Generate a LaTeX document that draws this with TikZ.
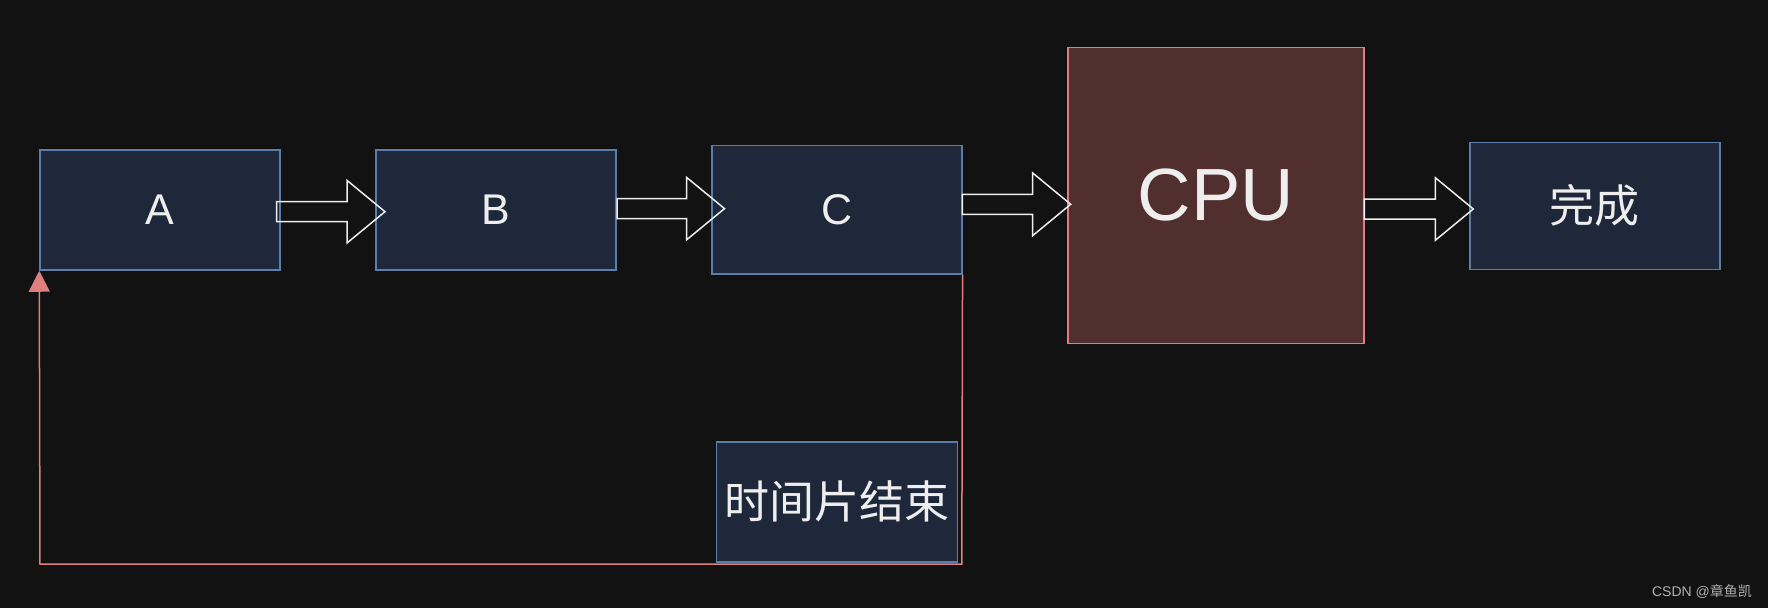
\documentclass[tikz,border=0pt]{standalone}
\usepackage{fontspec}
\setmainfont{Liberation Sans}
\newfontfamily\cjk{Noto Sans CJK SC}
\usetikzlibrary{arrows.meta}
\definecolor{bgc}{HTML}{121212}
\definecolor{boxfill}{HTML}{1E283A}
\definecolor{boxline}{HTML}{5B7DAA}
\definecolor{cpufill}{HTML}{522F2F}
\definecolor{redc}{HTML}{DF7F7F}
\definecolor{txt}{HTML}{EEEEEE}
\definecolor{wm}{HTML}{B0B0B0}
\tikzset{
  bluebox/.style={draw=boxline, fill=boxfill, line width=1.5pt, inner sep=0pt, text=txt, font=\fontsize{43}{43}\selectfont},
  cjktext/.style={font=\cjk\fontsize{45}{45}\selectfont},
  cpubox/.style={draw=redc, fill=cpufill, line width=1.5pt, inner sep=0pt, text=txt, font=\fontsize{74}{74}\selectfont},
  blockarr/.style={draw=txt, line width=1.5pt, line join=miter},
  loopline/.style={draw=redc, line width=1.5pt, -{Triangle[length=21pt,width=21pt]}},
}
\newcommand\blockarrow[3]{% tail x, tip x, centre y
  \draw[blockarr] (#1,#3-10) -- (#2-38,#3-10) -- (#2-38,#3-31.3) -- (#2,#3)
    -- (#2-38,#3+31.3) -- (#2-38,#3+10) -- (#1,#3+10) -- cycle;}
\begin{document}
\begin{tikzpicture}[x=1pt,y=-1pt]
\fill[bgc] (0,0) rectangle (1768,608);
\useasboundingbox (0,0) rectangle (1768,608);

\node[bluebox, minimum width=240pt, minimum height=120pt] (A) at (160,210) {A};
\node[bluebox, minimum width=240pt, minimum height=120pt] (B) at (496,210) {B};
\node[bluebox, minimum width=250pt, minimum height=128.5pt] (C) at (836.8,209.8) {C};
\node[cpubox, minimum width=296pt, minimum height=296pt] (CPU) at (1215.9,195.5) {CPU};
\node[bluebox, cjktext, minimum width=250pt, minimum height=127pt] (done) at (1594.9,205.8) {完成};
\node[bluebox, cjktext, minimum width=240.6pt, minimum height=119.7pt] (slice) at (837,501.9) {时间片结束};

\blockarrow{276.7}{385}{211.7}
\blockarrow{617}{724.5}{208.6}
\blockarrow{962.3}{1070.7}{204.3}
\blockarrow{1364.3}{1473.3}{209}

\coordinate (loopR) at (961.8,564);
\coordinate (loopL) at (40,564);
\draw[loopline] (C.south east) -- (loopR) -- (loopL) -- (A.south west);

\node[text=wm, font=\fontsize{14}{14}\selectfont, inner sep=0pt, anchor=east] (wmark) at (1752,591.5) {CSDN @{\cjk 章鱼凯}};
\end{tikzpicture}
\end{document}
